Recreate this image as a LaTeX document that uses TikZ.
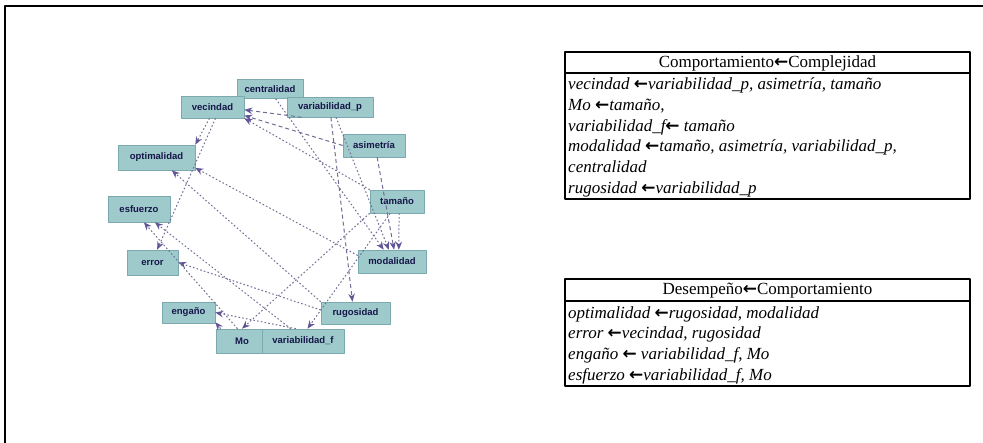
\documentclass[tikz,border=0pt]{standalone}
\usepackage{fontspec}
\setmainfont{Liberation Serif}
\newfontfamily\graphfont{Liberation Sans}
\newfontfamily\arrowfont{DejaVu Sans}
\usetikzlibrary{arrows.meta}

\definecolor{nodeteal}{RGB}{158,202,204}
\definecolor{nodeedge}{RGB}{122,170,174}
\definecolor{edgegray}{RGB}{112,110,148}
\definecolor{tippurple}{RGB}{98,86,150}
\definecolor{labelnavy}{RGB}{22,22,72}

\newcommand{\larr}{{\upshape\arrowfont\bfseries ←}}

\begin{document}
\begin{tikzpicture}[x=1pt, y=-1pt, line join=round,
		var/.style={draw=nodeedge, fill=nodeteal, line width=0.6pt, inner sep=0pt,
			font=\graphfont\bfseries\fontsize{9.5}{11}\selectfont, text=labelnavy},
		link/.style={draw=edgegray, line width=1pt, dash pattern=on 1.6pt off 2.2pt,
			-{Stealth[length=8pt,width=6.5pt,color=tippurple]}},
		longlink/.style={link, dash pattern=on 4pt off 3pt},
		head/.style={font=\fontsize{17}{21}\selectfont, inner sep=0pt},
		row/.style={font=\itshape\fontsize{17}{21}\selectfont, inner sep=0pt, anchor=base west}]
	
	% Parameters
	\def\tL{565} % table left
	\def\tR{970} % table right
	
	\useasboundingbox (0,0) rectangle (983,443);
	
	% 1. Frame (top and left edges)
	\draw[line width=1.3pt] (5,443) -- (5,6) -- (983,6);
	
	% 2. Variables of the network, on a circle
	\node[var, minimum width=66pt, minimum height=19pt] (cen) at (270,89) {centralidad};
	\node[var, minimum width=63pt, minimum height=22pt] (vec) at (212.5,107) {vecindad};
	\node[var, minimum width=86pt, minimum height=20pt] (varp) at (330,107) {variabilidad\_p};
	\node[var, minimum width=62pt, minimum height=23pt] (asi) at (374,145.5) {asimetría};
	\node[var, minimum width=54pt, minimum height=23pt] (tam) at (397,201.5) {tamaño};
	\node[var, minimum width=68pt, minimum height=23pt] (mod) at (392,261.5) {modalidad};
	\node[var, minimum width=69pt, minimum height=22pt] (rug) at (355.5,313) {rugosidad};
	\node[var, minimum width=52pt, minimum height=24pt] (Mo) at (242,341) {Mo};
	\node[var, minimum width=82pt, minimum height=24pt] (varf) at (303,341) {variabilidad\_f};
	\node[var, minimum width=53pt, minimum height=21pt] (eng) at (188.5,312.5) {engaño};
	\node[var, minimum width=51pt, minimum height=25pt] (err) at (152.5,262.5) {error};
	\node[var, minimum width=62pt, minimum height=26pt] (esf) at (139,209) {esfuerzo};
	\node[var, minimum width=77pt, minimum height=25pt] (opt) at (156.5,157.5) {optimalidad};
	
	% 3. Dependencies (parent -> child)
	\draw[longlink] (varp.200) -- (vec.-5);
	\draw[longlink] (asi.west) -- (vec.-15);
	\draw[link] (tam.north west) -- (vec.south east);
	\draw[link] (tam.south west) -- (Mo.north);
	\draw[link] (tam.-120) -- (varf.70);
	\draw[link] (tam.-80) -- (mod.60);
	\draw[longlink] (asi.-75) -- (mod.80);
	\draw[link] (varp.-60) -- (mod.105);
	\draw[link] (cen.-60) -- (mod.125);
	\draw[longlink] (varp.-85) -- (rug.105);
	\draw[link] (rug.north west) -- (opt.-40);
	\draw[link] (mod.170) -- (opt.-15);
	\draw[link] (vec.-105) -- (opt.north east);
	\draw[link] (vec.-75) -- (err.70);
	\draw[link] (rug.175) -- (err.east);
	\draw[link] (varf.120) -- (eng.east);
	\draw[link] (Mo.150) -- (eng.-20);
	\draw[link] (varf.135) -- (esf.-40);
	\draw[link] (Mo.110) -- (esf.-70);
	
	% 4. Table: Comportamiento <- Complejidad
	\draw[line width=1.2pt] (\tL,52) rectangle (\tR,199);
	\draw[line width=1.2pt] (\tL,73) -- (\tR,73);
	\node[head] (head1) at (767.5,63) {Comportamiento\larr Complejidad};
	\foreach \txt [count=\i] in {{vecindad \larr variabilidad\_p, asimetría, tamaño},
		{Mo \larr tamaño,}, {variabilidad\_f\larr\ tamaño},
		{modalidad \larr tamaño, asimetría, variabilidad\_p,}, {centralidad},
		{rugosidad \larr variabilidad\_p}} {
		\node[row] (c\i) at (568,{69+20.7*\i}) {\txt};
	}
	
	% 5. Table: Desempeño <- Comportamiento
	\draw[line width=1.2pt] (\tL,279) rectangle (\tR,386);
	\draw[line width=1.2pt] (\tL,301) -- (\tR,301);
	\node[head] (head2) at (767.5,290.5) {Desempeño\larr Comportamiento};
	\foreach \txt [count=\i] in {{optimalidad \larr rugosidad, modalidad},
		{error \larr vecindad, rugosidad}, {engaño \larr\ variabilidad\_f, Mo},
		{esfuerzo \larr variabilidad\_f, Mo}} {
		\node[row] (d\i) at (568,{297.5+20.7*\i}) {\txt};
	}
	
\end{tikzpicture}
\end{document}
